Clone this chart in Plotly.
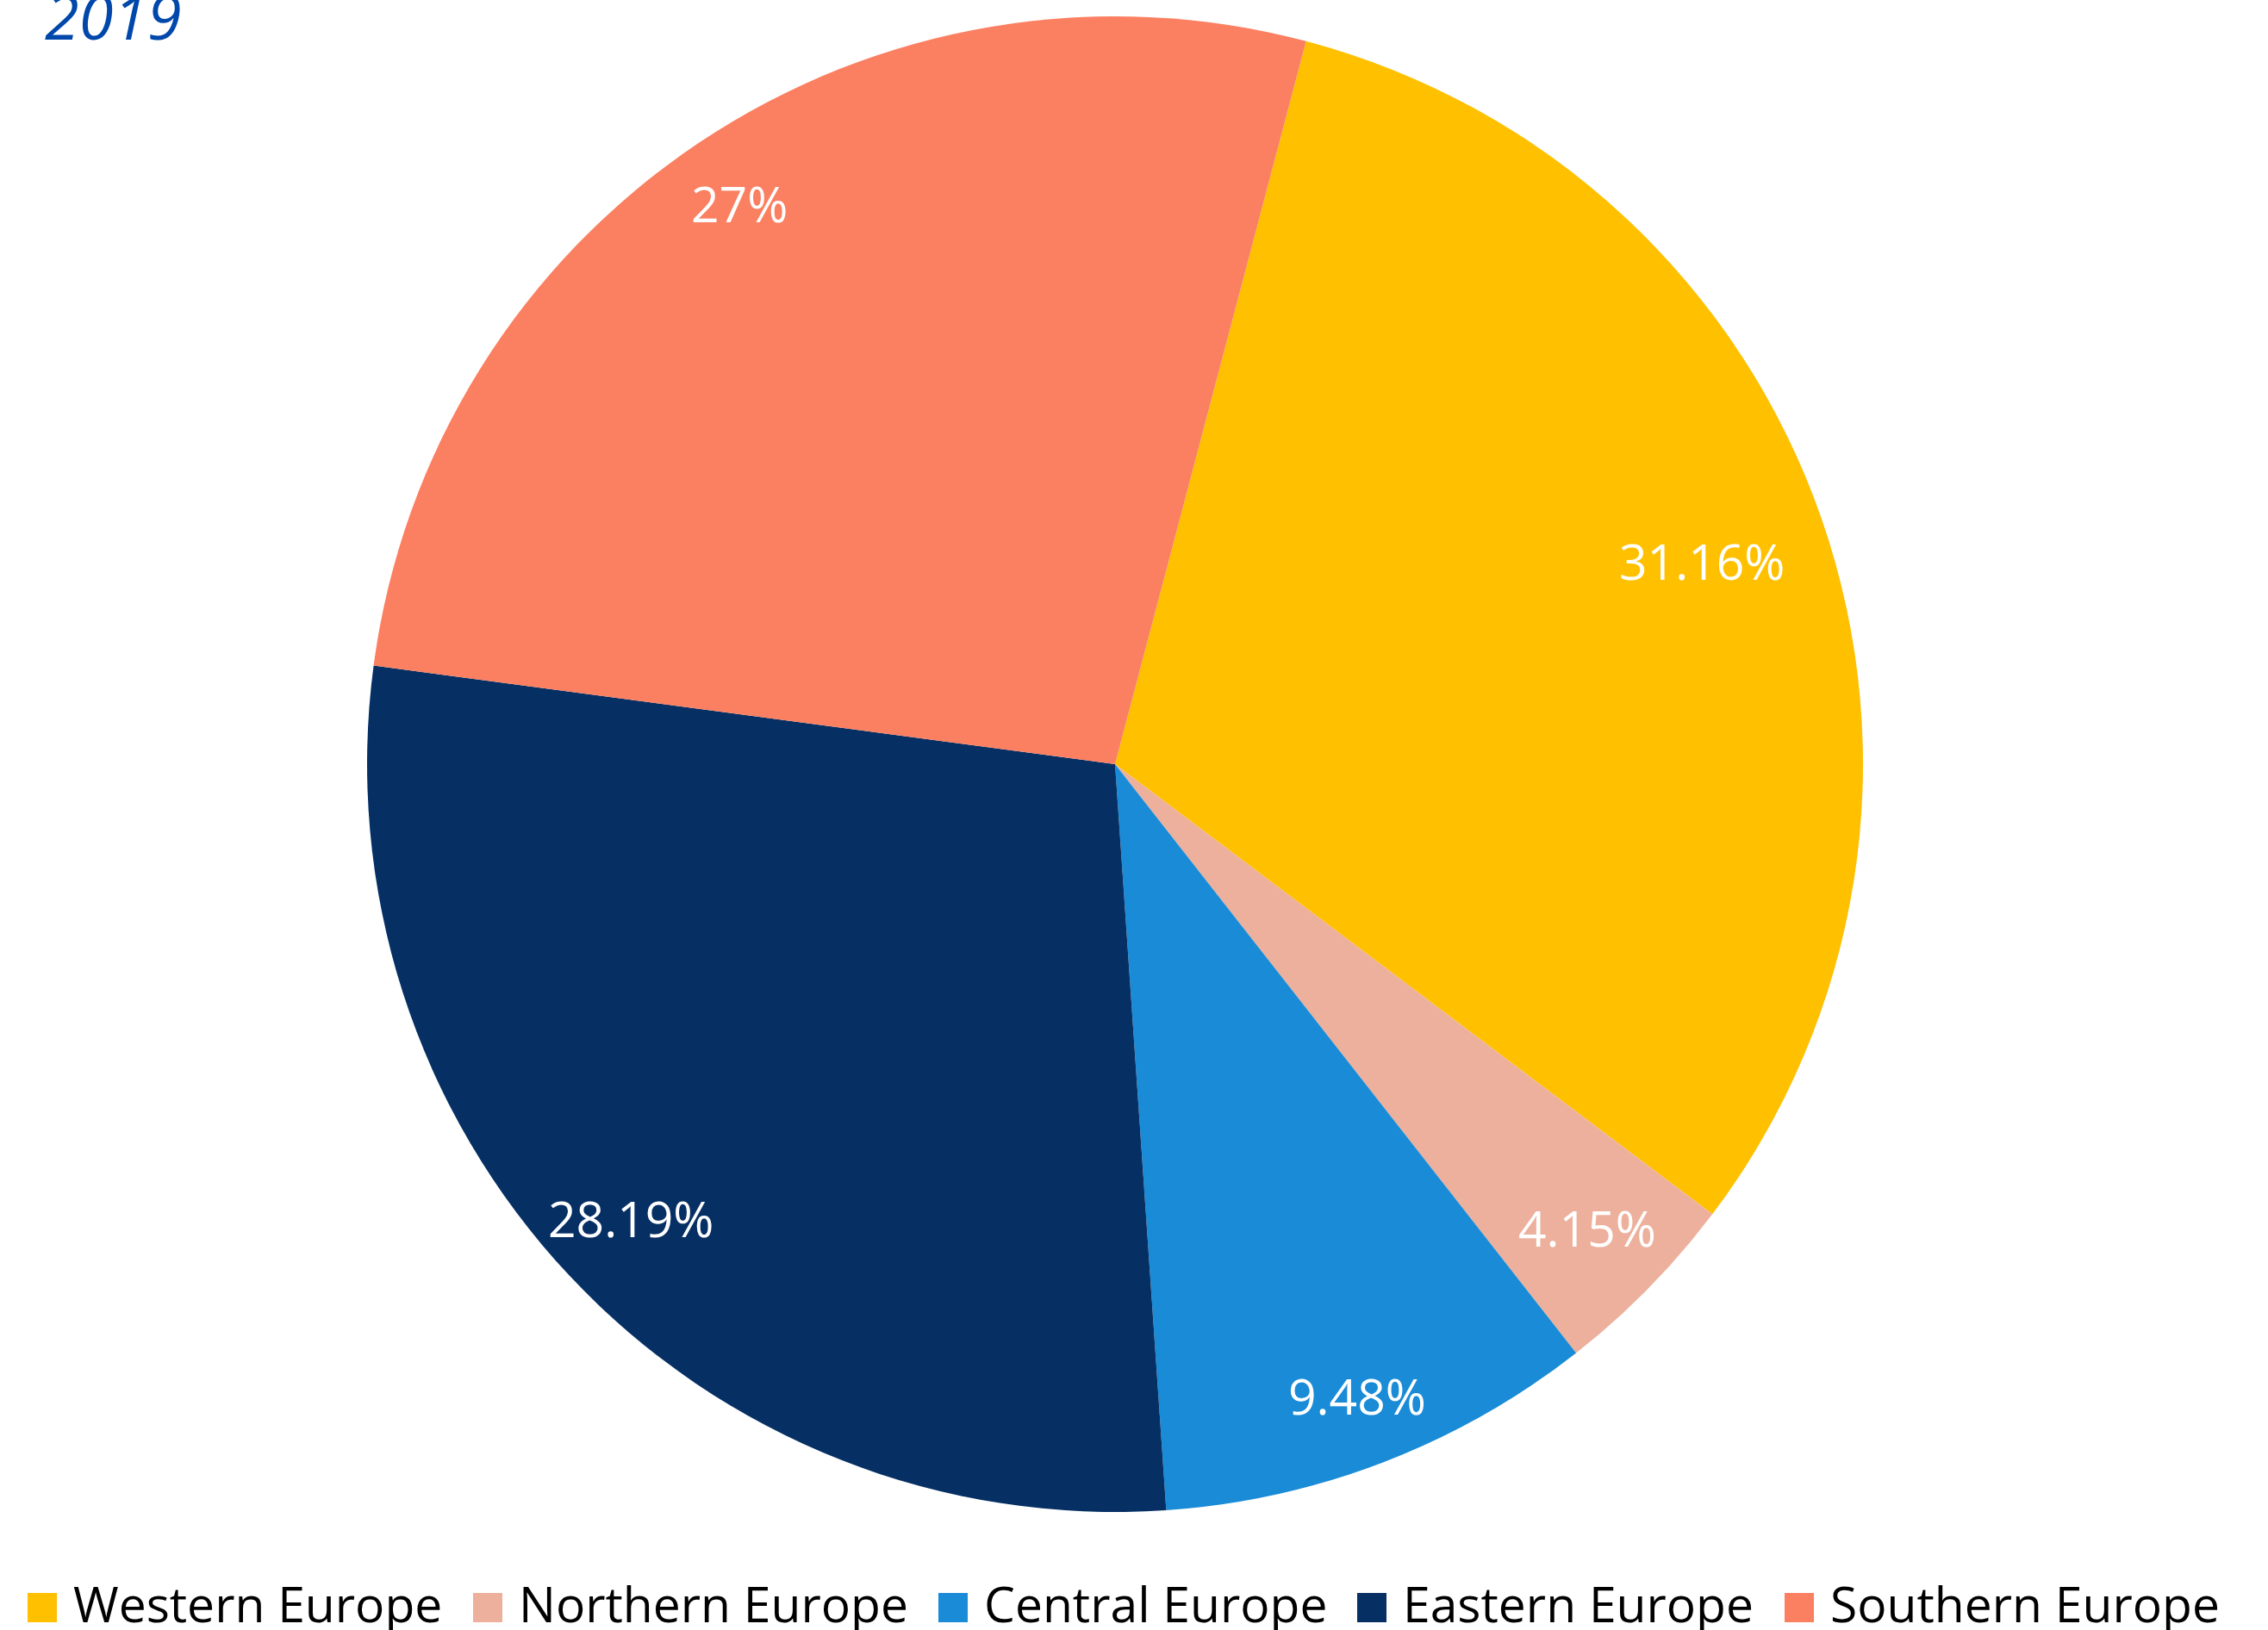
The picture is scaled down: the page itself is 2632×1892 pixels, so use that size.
import math
import plotly.graph_objects as go

# Share of total by European region, 2019
regions = ["Western Europe", "Northern Europe", "Central Europe", "Eastern Europe", "Southern Europe"]
shares = [31.16, 4.15, 9.48, 28.19, 27]
colors = ["#FFC000", "#ECB09C", "#1A8BD6", "#062F64", "#FB7F61"]
title_text = "2019"

W, H = 2632, 1892
FONT = "Open Sans"

# pie geometry (pixels)
cx, cy, R = 1294, 887, 868
start_deg = 14.8                     # first slice starts this far clockwise from 12 o'clock
label_radius = [0.83, 0.885, 0.905, 0.888, 0.903]   # label distance from centre, fraction of radius

fig = go.Figure()
fig.add_trace(go.Pie(
    labels=regions,
    values=shares,
    sort=False,
    direction="clockwise",
    rotation=start_deg,
    marker=dict(colors=colors, line=dict(width=0)),
    textinfo="none",
    hoverinfo="label+value",
    showlegend=False,
    domain=dict(x=[(cx - R) / W, (cx + R) / W], y=[1 - (cy + R) / H, 1 - (cy - R) / H]),
))

# value labels placed near the outer part of each slice
total = sum(shares)
acc = 0.0
annotations = []
for name, v, f in zip(regions, shares, label_radius):
    mid = math.radians(start_deg + (acc + v / 2) / total * 360)
    acc += v
    px = cx + f * R * math.sin(mid)
    py = cy - f * R * math.cos(mid)
    annotations.append(dict(
        x=px / W, y=1 - py / H, xref="paper", yref="paper",
        text=f"{v:g}%", showarrow=False, xanchor="center", yanchor="middle",
        font=dict(family=FONT, size=57, color="white"),
    ))

# title
annotations.append(dict(
    x=50 / W, y=1 - 18 / H, xref="paper", yref="paper",
    text=f"<i>{title_text}</i>", showarrow=False, xanchor="left", yanchor="middle",
    font=dict(family=FONT, size=72, color="#0047AB"),
))

# legend row along the bottom
legend_sq_x = [32, 549, 1089, 1575, 2071]
sq = 34
sq_top, sq_bot = 1849, 1883
shapes = []
for name, col, x0 in zip(regions, colors, legend_sq_x):
    shapes.append(dict(
        type="rect", xref="paper", yref="paper",
        x0=x0 / W, x1=(x0 + sq) / W, y0=1 - sq_bot / H, y1=1 - sq_top / H,
        fillcolor=col, line=dict(width=0),
    ))
    annotations.append(dict(
        x=(x0 + sq + 17) / W, y=1 - 1861 / H, xref="paper", yref="paper",
        text=name, showarrow=False, xanchor="left", yanchor="middle",
        font=dict(family=FONT, size=57, color="black"),
    ))

fig.update_layout(
    width=W, height=H,
    margin=dict(l=0, r=0, t=0, b=0),
    paper_bgcolor="white",
    plot_bgcolor="white",
    annotations=annotations,
    shapes=shapes,
    showlegend=False,
)

fig.write_html("out.html")
